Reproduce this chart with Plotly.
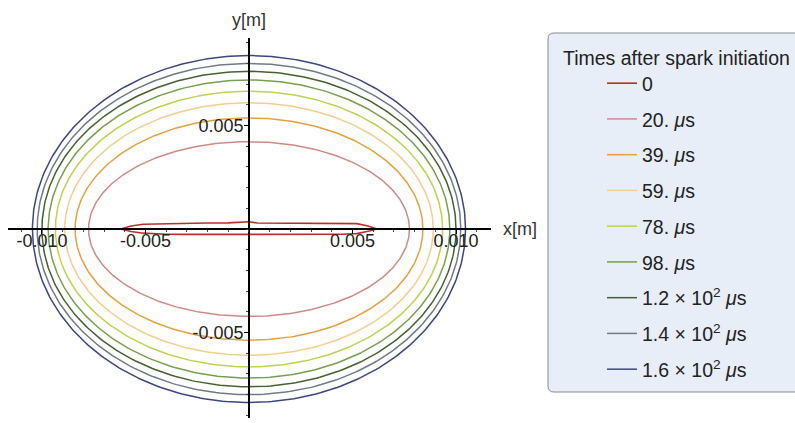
import numpy as np
import plotly.graph_objects as go

# ---- data ----
labels = ["0", "20. <i>μ</i>s", "39. <i>μ</i>s", "59. <i>μ</i>s", "78. <i>μ</i>s", "98. <i>μ</i>s",
          "1.2 × 10<sup>2</sup> <i>μ</i>s", "1.4 × 10<sup>2</sup> <i>μ</i>s", "1.6 × 10<sup>2</sup> <i>μ</i>s"]
colors = ["#b8302a", "#cf8a88", "#e3a23e", "#f1cf8e", "#bcd44c", "#76a04e", "#44622f", "#707a88", "#3c4682"]

# time 0: thin spark channel (upper and lower edge)
spark_x = [-0.0062, -0.0057, -0.0051, -0.0040, -0.0032, -0.0020, -0.0010, -0.0006, 0.0, 0.0004,
           0.0015, 0.0030, 0.0045, 0.0052, 0.0057, 0.0062]
spark_y_top = [0.0, 0.00015, 0.00023, 0.00026, 0.00028, 0.00029, 0.00030, 0.00032, 0.00035, 0.00029,
               0.00028, 0.00028, 0.00028, 0.00026, 0.00016, 0.0]
spark_y_bot = [0.0, -0.00012, -0.00020, -0.00025, -0.00026, -0.00026, -0.00026, -0.00026, -0.00026,
               -0.00026, -0.00026, -0.00026, -0.00025, -0.00022, -0.00012, 0.0]

# later times: semi-axes of the expanding kernel boundary [m]
semi_x = [0.00775, 0.0084, 0.0089, 0.00935, 0.0097, 0.0100, 0.01023, 0.01046]
semi_y = [0.00422, 0.00537, 0.0061, 0.00666, 0.0072, 0.00762, 0.0080, 0.00838]

x_ticks = [-0.010, -0.005, 0.005, 0.010]
x_ticktext = ["-0.010", "-0.005", "0.005", "0.010"]
y_ticks = [-0.005, 0.005]
y_ticktext = ["-0.005", "0.005"]

FONT = "Liberation Sans, Arial, sans-serif"
TICKFONT = dict(family=FONT, size=18, color="#222")
LEGFONT = dict(family=FONT, size=19.5, color="#222")

fig = go.Figure()

sx = list(spark_x) + list(spark_x[::-1])
sy = list(spark_y_top) + list(spark_y_bot[::-1])
fig.add_trace(go.Scatter(x=sx, y=sy, mode="lines", name=labels[0], legendgroup="g0",
                         line=dict(color=colors[0], width=1.6), hoverinfo="skip"))

theta = np.linspace(0, 2 * np.pi, 361)
for i, (a, b) in enumerate(zip(semi_x, semi_y)):
    fig.add_trace(go.Scatter(x=a * np.cos(theta), y=b * np.sin(theta), mode="lines",
                             name=labels[i + 1], legendgroup=f"g{i+1}",
                             line=dict(color=colors[i + 1], width=1.5), hoverinfo="skip"))

L, R, T, B = 8, 304, 38, 5
W, H = 795, 423
PW, PH = W - L - R, H - T - B
xr = [-0.01164, 0.01169]
yr = [-0.00913, 0.00923]

def px_x(p):
    return (p - L) / PW

def px_y(p):
    return (H - B - p) / PH

fig.update_layout(
    width=W, height=H,
    margin=dict(l=L, r=R, t=T, b=B, autoexpand=False),
    plot_bgcolor="white", paper_bgcolor="white",
    font=dict(family=FONT, size=16, color="#222"),
    showlegend=True,
    legend=dict(x=px_x(602), y=px_y(64), xanchor="left", yanchor="top",
                bgcolor="rgba(0,0,0,0)", borderwidth=0, tracegroupgap=7.4,
                font=LEGFONT, itemclick=False),
    xaxis=dict(range=xr, showgrid=False, zeroline=False, showline=True, linecolor="black", linewidth=1.7,
               anchor="free", position=(0 - yr[0]) / (yr[1] - yr[0]),
               tickvals=x_ticks, ticktext=x_ticktext, ticks="outside", ticklen=4, tickcolor="black",
               tickfont=TICKFONT, ticklabelstandoff=-8,
               minor=dict(dtick=0.001, tick0=0, ticks="outside", ticklen=2, tickcolor="#444")),
    yaxis=dict(range=yr, showgrid=False, zeroline=False, showline=True, linecolor="black", linewidth=1.7,
               anchor="free", position=(0 - xr[0]) / (xr[1] - xr[0]),
               tickvals=y_ticks, ticktext=y_ticktext, ticks="outside", ticklen=4, tickcolor="black",
               tickfont=TICKFONT, ticklabelstandoff=-3,
               minor=dict(dtick=0.001, tick0=0, ticks="outside", ticklen=2, tickcolor="#444")),
)

# legend frame (rounded left corners) and title
x0, x1 = px_x(548), px_x(800)
y0, y1 = px_y(392), px_y(33)
rx, ry = 6 / PW, 6 / PH
path = (f"M{x1},{y1} L{x0+rx},{y1} Q{x0},{y1} {x0},{y1-ry} L{x0},{y0+ry} "
        f"Q{x0},{y0} {x0+rx},{y0} L{x1},{y0} Z")
fig.add_shape(type="path", path=path, xref="paper", yref="paper",
              fillcolor="#e7eef8", line=dict(color="#8a8a8a", width=1), layer="below")
fig.add_annotation(text="Times after spark initiation", xref="paper", yref="paper",
                   x=px_x(561), y=px_y(58), xanchor="left", yanchor="middle", showarrow=False,
                   font=LEGFONT)

# axis labels
fig.add_annotation(text="y[m]", x=0, y=yr[1], xref="x", yref="y", yanchor="bottom", xanchor="center",
                   yshift=6, showarrow=False, font=dict(family=FONT, size=18, color="#333"))
fig.add_annotation(text="x[m]", x=xr[1], y=0, xref="x", yref="y", xanchor="left", yanchor="middle",
                   xshift=10, showarrow=False, font=dict(family=FONT, size=18, color="#333"))

fig.write_html("out.html", config={"displayModeBar": False},
               post_script="document.body.style.margin='0px';")
